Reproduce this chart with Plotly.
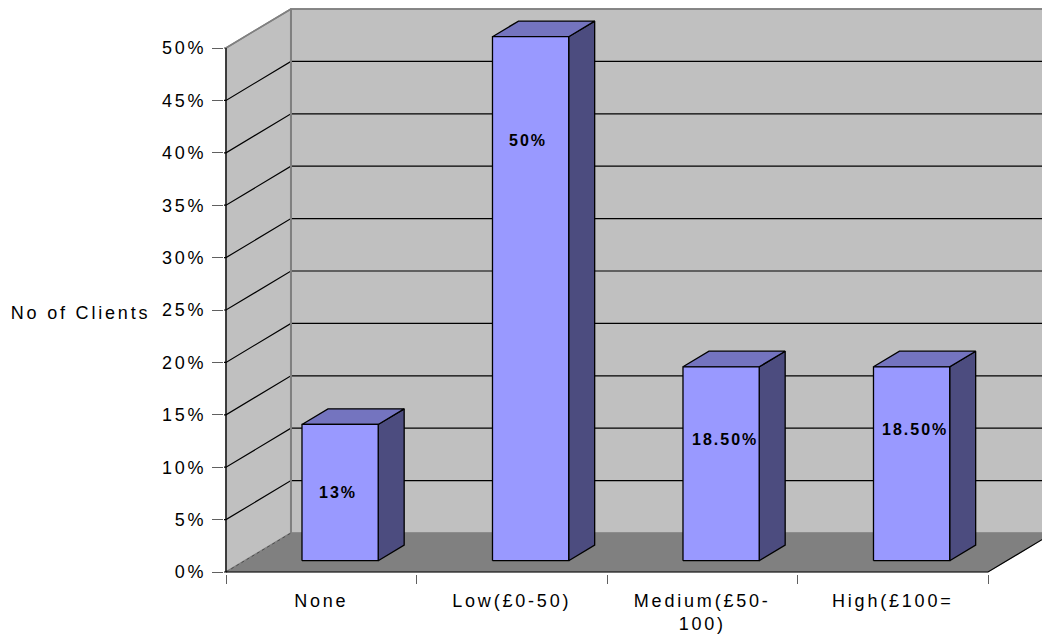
import plotly.graph_objects as go

# ---- data -------------------------------------------------------------
categories = ["None", "Low(£0-50)", "Medium(£50-<br>100)", "High(£100="]
shares = [13, 50, 18.5, 18.5]
share_labels = ["13%", "50%", "18.50%", "18.50%"]
y_tick_values = [0, 5, 10, 15, 20, 25, 30, 35, 40, 45, 50]
y_tick_text = ["0%", "5%", "10%", "15%", "20%", "25%", "30%", "35%", "40%", "45%", "50%"]
axis_title = "No of Clients"

# label anchor points inside each bar (x nudge in category units, y in %)
label_x_nudge = [-0.013, -0.016, 0.018, 0.016]
label_y = [7.6, 41.2, 12.6, 13.6]

# ---- 3-D box geometry (data units) ---------------------------------------
Y_MAX_TICK = 50
DEPTH_X = 0.341          # horizontal depth offset of the back wall, categories
DEPTH_Y = 3.72           # vertical depth offset of the back wall, %
BAR_W = 0.40             # bar width as a fraction of a category
BAR_FRONT = 0.29         # bar front face position in the depth
BAR_DEPTH = 0.40         # bar thickness as a fraction of the depth

W, H = 1042, 639
M_L, M_B = 224, 65
PX_X, PX_Y = 190.5, 10.48
x_min = -0.5 - (226 - M_L) / PX_X
x_max = x_min + (W - M_L) / PX_X
y_min = -(639 - 572 - M_B) / PX_Y
y_max = y_min + (H - M_B) / PX_Y

WALL = "#C0C0C0"
FLOOR = "#808080"
EDGE = "#808080"
FRONT = "#9999FF"
TOP = "#7474BF"
SIDE = "#4C4C7F"
FONT = "Arial, Liberation Sans, sans-serif"

x_left = -0.5
x_right = len(categories) - 0.5

fig = go.Figure()


def poly(xs, ys, fill, line_color, width=1.0):
    fig.add_trace(go.Scatter(
        x=list(xs) + [xs[0]], y=list(ys) + [ys[0]],
        mode="lines", fill="toself", fillcolor=fill,
        line=dict(color=line_color, width=width),
        hoverinfo="skip", showlegend=False,
    ))


def seg(xs, ys, color, width=1.0, dash=None):
    fig.add_trace(go.Scatter(
        x=xs, y=ys, mode="lines",
        line=dict(color=color, width=width, dash=dash),
        hoverinfo="skip", showlegend=False,
    ))


# back wall
poly([x_left + DEPTH_X, x_right + DEPTH_X + 1, x_right + DEPTH_X + 1, x_left + DEPTH_X],
     [DEPTH_Y, DEPTH_Y, Y_MAX_TICK + DEPTH_Y, Y_MAX_TICK + DEPTH_Y], WALL, EDGE, 1.5)
# side wall
poly([x_left, x_left + DEPTH_X, x_left + DEPTH_X, x_left],
     [0, DEPTH_Y, Y_MAX_TICK + DEPTH_Y, Y_MAX_TICK], WALL, EDGE, 1.5)
# floor
poly([x_left, x_right, x_right + DEPTH_X, x_left + DEPTH_X],
     [0, 0, DEPTH_Y, DEPTH_Y], FLOOR, FLOOR, 0.5)

# gridlines running along the side wall and across the back wall
for v in y_tick_values[1:-1]:
    seg([x_min, x_left, x_left + DEPTH_X, x_max],
        [v, v, v + DEPTH_Y, v + DEPTH_Y], "#000000", 1.2)
# top edge of the walls
seg([x_min, x_left, x_left + DEPTH_X, x_max],
    [Y_MAX_TICK, Y_MAX_TICK, Y_MAX_TICK + DEPTH_Y, Y_MAX_TICK + DEPTH_Y], EDGE, 1.5)
# back wall left edge
seg([x_left + DEPTH_X, x_left + DEPTH_X], [DEPTH_Y, Y_MAX_TICK + DEPTH_Y], EDGE, 2)

# floor edges and value axis line
seg([x_left, x_left + DEPTH_X], [0, DEPTH_Y], "#505050", 1, "dot")
seg([x_min, x_right, x_right + DEPTH_X], [0, 0, DEPTH_Y], "#000000", 1.2)
seg([x_left, x_left], [0, Y_MAX_TICK], "#000000", 1.2)

# columns
for i, v in enumerate(shares):
    fx0 = i - BAR_W / 2 + BAR_FRONT * DEPTH_X
    fx1 = i + BAR_W / 2 + BAR_FRONT * DEPTH_X
    fy0 = BAR_FRONT * DEPTH_Y
    fy1 = fy0 + v
    ddx = BAR_DEPTH * DEPTH_X
    ddy = BAR_DEPTH * DEPTH_Y
    poly([fx1, fx1 + ddx, fx1 + ddx, fx1], [fy0, fy0 + ddy, fy1 + ddy, fy1], SIDE, "#000000", 1.3)
    poly([fx0, fx1, fx1 + ddx, fx0 + ddx], [fy1, fy1, fy1 + ddy, fy1 + ddy], TOP, "#000000", 1.3)
    poly([fx0, fx1, fx1, fx0], [fy0, fy0, fy1, fy1], FRONT, "#000000", 1.3)
    fig.add_annotation(
        x=i + BAR_FRONT * DEPTH_X + label_x_nudge[i], y=label_y[i],
        text=share_labels[i], showarrow=False,
        font=dict(family=FONT, size=16, color="#000000", weight=700),
        xanchor="center", yanchor="middle",
    )

# horizontal value-axis title to the left of the tick labels
fig.add_annotation(
    xref="paper", yref="y",
    x=(80.5 - M_L) / (W - M_L), y=25, yshift=-3,
    text=axis_title, showarrow=False, xanchor="center", yanchor="middle",
    font=dict(family=FONT, size=18, color="#000000"),
)

fig.update_layout(
    width=W, height=H,
    margin=dict(l=M_L, r=0, t=0, b=M_B, pad=0),
    paper_bgcolor="#FFFFFF", plot_bgcolor="rgba(0,0,0,0)",
    font=dict(family=FONT, size=18, color="#000000"),
    showlegend=False,
    xaxis=dict(
        range=[x_min, x_max], showgrid=False, zeroline=False, showline=False,
        tickmode="array", tickvals=list(range(len(categories))), ticktext=categories,
        ticks="", ticklabelstandoff=14,
        minor=dict(tickmode="array", tickvals=[k - 0.5 for k in range(len(categories) + 1)],
                   ticks="outside", ticklen=9, tickcolor="#606060", tickwidth=1, showgrid=False),
        fixedrange=True,
    ),
    yaxis=dict(
        range=[y_min, y_max], showgrid=False, zeroline=False, showline=False,
        tickmode="array", tickvals=y_tick_values, ticktext=y_tick_text,
        ticks="outside", ticklen=11, tickcolor="#606060", tickwidth=1,
        ticklabelstandoff=2, fixedrange=True,
    ),
)

letter_spacing = """
var gd = document.getElementById('{plot_id}');
gd.querySelectorAll('text').forEach(function (t) {
  var w = (t.style.fontWeight || '').toString();
  t.style.letterSpacing = (w === 'bold' || w === '700') ? '2px' : '2.8px';
});
"""

fig.write_html("out.html", post_script=letter_spacing, config={"displayModeBar": False})
